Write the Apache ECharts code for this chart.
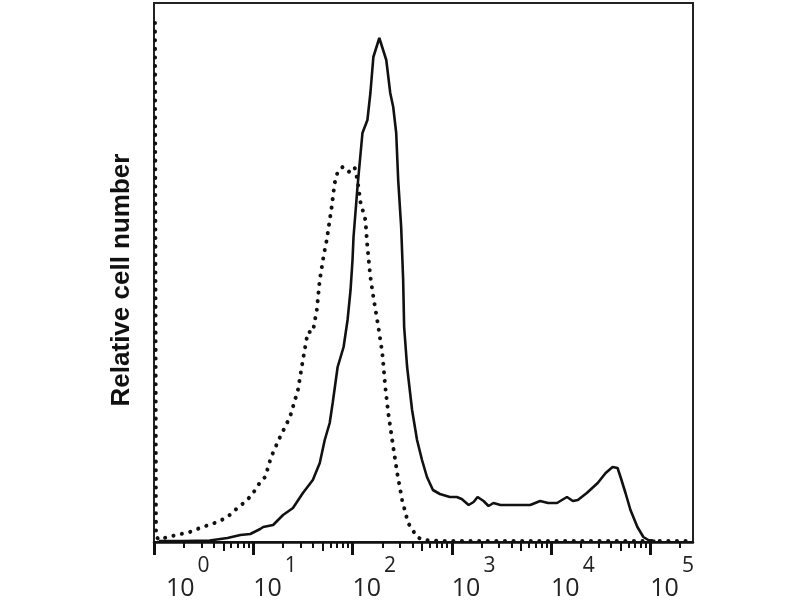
<!DOCTYPE html>
<html>
<head>
<meta charset="utf-8">
<script src="https://cdn.jsdelivr.net/npm/echarts@6/dist/echarts.min.js"></script>
<style>html,body{margin:0;padding:0;background:#fff;}#c{width:800px;height:600px;}</style>
</head>
<body>
<div id="c"></div>
<script>
// x in decades (log10 of fluorescence), y = relative cell count
const solidData = [
  [0.05,1],[0.29,1],[0.56,1.5],[0.74,4],[0.87,7],[0.97,8],[1.07,13],[1.10,15],[1.20,17],
  [1.30,27],[1.40,34],[1.50,49],[1.60,62],[1.67,79],[1.72,102],[1.77,119],[1.80,139],
  [1.85,175],[1.91,195],[1.95,222],[1.98,252],[2.00,282],[2.01,305],[2.05,355],[2.10,409],
  [2.15,422],[2.18,449],[2.21,485],[2.27,504],[2.34,482],[2.38,449],[2.41,435],[2.44,409],
  [2.46,362],[2.49,315],[2.51,262],[2.52,215],[2.55,175],[2.60,132],[2.65,102],[2.70,82],
  [2.75,65],[2.81,52],[2.88,48],[2.98,45],[3.05,45],[3.10,43],[3.17,37],[3.22,40],[3.26,45],
  [3.32,41],[3.37,36],[3.42,39],[3.49,37],[3.62,37],[3.79,37],[3.89,41],[3.97,39],[4.06,39],
  [4.16,45],[4.22,41],[4.27,42],[4.36,49],[4.47,59],[4.55,69],[4.62,75],[4.67,74],[4.70,65],
  [4.75,49],[4.80,32],[4.87,15],[4.93,5],[4.98,2],[5.05,1]
];
const dottedData = [
  [0.01,519],[0.02,5],[0.06,2],[0.13,5],[0.23,7],[0.36,10],[0.49,15],[0.64,20],[0.74,25],
  [0.84,34],[0.94,42],[1.02,52],[1.07,60],[1.12,65],[1.18,85],[1.27,105],[1.37,125],
  [1.45,152],[1.50,182],[1.55,210],[1.60,210],[1.64,232],[1.67,262],[1.71,287],[1.74,302],
  [1.79,335],[1.82,359],[1.85,370],[1.90,375],[1.96,370],[2.02,375],[2.05,362],[2.08,340],
  [2.13,322],[2.15,295],[2.18,265],[2.21,245],[2.26,215],[2.30,189],[2.33,155],[2.36,129],
  [2.41,95],[2.45,69],[2.50,42],[2.56,19],[2.65,5],[2.71,2],[2.88,1],[5.43,1]
];
const majorTicks = [0,1,2,3,4,5];
const tickLabelBase = '10';
const yAxisTitle = 'Relative cell number';

const minorTicks = [];
const midTicks = [];
majorTicks.forEach(function(n){
  [2,3,4,6,7,8,9].forEach(function(m){ const v = n + Math.log10(m); if (v < 5.43) minorTicks.push(v); });
  const h = n + Math.log10(5); if (h < 5.43) midTicks.push(h);
});

const xMin = 0, xMax = 5.43;
const chart = echarts.init(document.getElementById('c'));
const tickAxis = function(vals, len, w){
  return {type:'value', min:xMin, max:xMax, position:'bottom', gridIndex:0,
    axisLine:{show:false}, splitLine:{show:false}, axisLabel:{show:false},
    axisTick:{show:true, inside:false, length:len, customValues:vals, lineStyle:{color:'#111', width:w}}};
};
chart.setOption({
  animation:false,
  backgroundColor:'#fff',
  grid:{left:154, right:107, top:3, bottom:58, show:true, borderColor:'#222', borderWidth:2,
    backgroundColor:'transparent', containLabel:false, outerBoundsMode:'none'},
  xAxis:[
    {type:'value', min:xMin, max:xMax, interval:1, position:'bottom',
      axisLine:{show:true, lineStyle:{color:'#111', width:2.5}},
      axisTick:{show:true, inside:false, length:13, lineStyle:{color:'#111', width:3}},
      splitLine:{show:false},
      axisLabel:{show:true, margin:23, align:'left', verticalAlign:'top', showMaxLabel:false,
        formatter:function(v){ return (v===0?'{p|}':'') + '{b|' + tickLabelBase + '}{s|' + v + '}'; },
        rich:{
          p:{width:12},
          b:{fontFamily:'Open Sans', fontSize:25, color:'#222', lineHeight:29, padding:[18,0,0,0]},
          s:{fontFamily:'Open Sans', fontSize:21, color:'#222', lineHeight:25, padding:[0,0,26,3]}
        }}
    },
    tickAxis(minorTicks, 6, 2),
    tickAxis(midTicks, 9, 2)
  ],
  yAxis:{type:'value', min:0, max:539, axisLine:{show:false}, axisTick:{show:false}, axisLabel:{show:false}, splitLine:{show:false}},
  graphic:[{type:'text', x:122, y:280, rotation:Math.PI/2,
    style:{text:yAxisTitle, fontFamily:'Liberation Sans', fontWeight:'bold', fontSize:26, fill:'#111', align:'center', verticalAlign:'middle', textAlign:'center', textVerticalAlign:'middle'}}],
  series:[
    {type:'line', data:solidData, showSymbol:false, symbol:'none', smooth:false,
      lineStyle:{color:'#111', width:2.6}, z:3},
    {type:'line', data:dottedData, showSymbol:false, symbol:'none', smooth:false,
      lineStyle:{color:'#111', width:4, type:[0.1,8.5], cap:'round'}, z:2}
  ]
});
</script>
</body>
</html>
